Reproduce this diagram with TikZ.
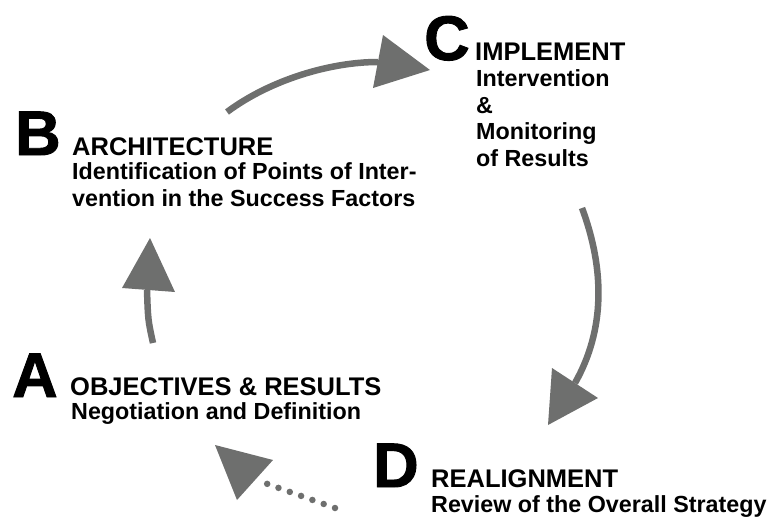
\documentclass[tikz,border=0pt]{standalone}
\usepackage{fontspec}
\setmainfont{Liberation Sans}
\newfontface\heavyfont{Liberation Sans Bold}[FakeBold=1.5]
\usetikzlibrary{positioning}
\definecolor{arrowgray}{RGB}{110,111,110}

\begin{document}
\begin{tikzpicture}[x=1pt,y=-1pt,
    bigletter/.style={anchor=base west,font=\fontsize{63}{63}\heavyfont},
    headtext/.style={anchor=base west,font=\fontsize{25.5}{27}\selectfont\bfseries},
    subtext/.style={anchor=base west,align=left,font=\fontsize{23.3}{26.5}\selectfont\bfseries},
    loopline/.style={draw=arrowgray,line width=6.5pt},
    loophead/.style={fill=arrowgray}]
    \tikzstyle{every node}+=[inner sep=0pt]
    \useasboundingbox (0,0) rectangle (772,517);
    \node [bigletter] (letterB) at (15,155) {B};
    \node [headtext] (headB) at (72,155) {ARCHITECTURE};
    \node [subtext] (subB) at (72,206) {Identification of Points of Inter-\\vention in the Success Factors};
    \node [bigletter] (letterC) at (424,60) {C};
    \node [headtext] (headC) at (475,60) {IMPLEMENT};
    \node [subtext] (subC) at (476,166) {Intervention\\\&\\Monitoring\\of Results};
    \node [bigletter] (letterA) at (12,397) {A};
    \node [headtext] (headA) at (70,395) {OBJECTIVES \& RESULTS};
    \node [subtext] (subA) at (71,419) {Negotiation and Definition};
    \node [bigletter] (letterD) at (373,487) {D};
    \node [headtext] (headD) at (431,487) {REALIGNMENT};
    \node [subtext] (subD) at (431,512) {Review of the Overall Strategy};
    \coordinate (outB) at (227,112);
    \coordinate (inC) at (378,62);
    \draw [loopline] (outB) .. controls (270,80) and (330,62) .. (inC);
    \fill [loophead] (430,70) -- (383,35) -- (373,88) -- cycle;
    \coordinate (outC) at (582,208);
    \coordinate (inD) at (575,383);
    \draw [loopline] (outC) .. controls (605,270) and (605,330) .. (inD);
    \fill [loophead] (548,425) -- (552,368) -- (598,398) -- cycle;
    \coordinate (outA) at (153,343);
    \coordinate (inB) at (147,290);
    \draw [loopline] (outA) .. controls (148,320) .. (inB);
    \fill [loophead] (150,238) -- (122,288) -- (175,292) -- cycle;
    \coordinate (outD) at (335,508);
    \coordinate (inA) at (262,482);
    \draw [arrowgray, line width=6.5pt, line cap=round, dash pattern=on 0pt off 12pt] (outD) -- (inA);
    \fill [loophead] (215,445) -- (273,460) -- (237,500) -- cycle;
\end{tikzpicture}
\end{document}
